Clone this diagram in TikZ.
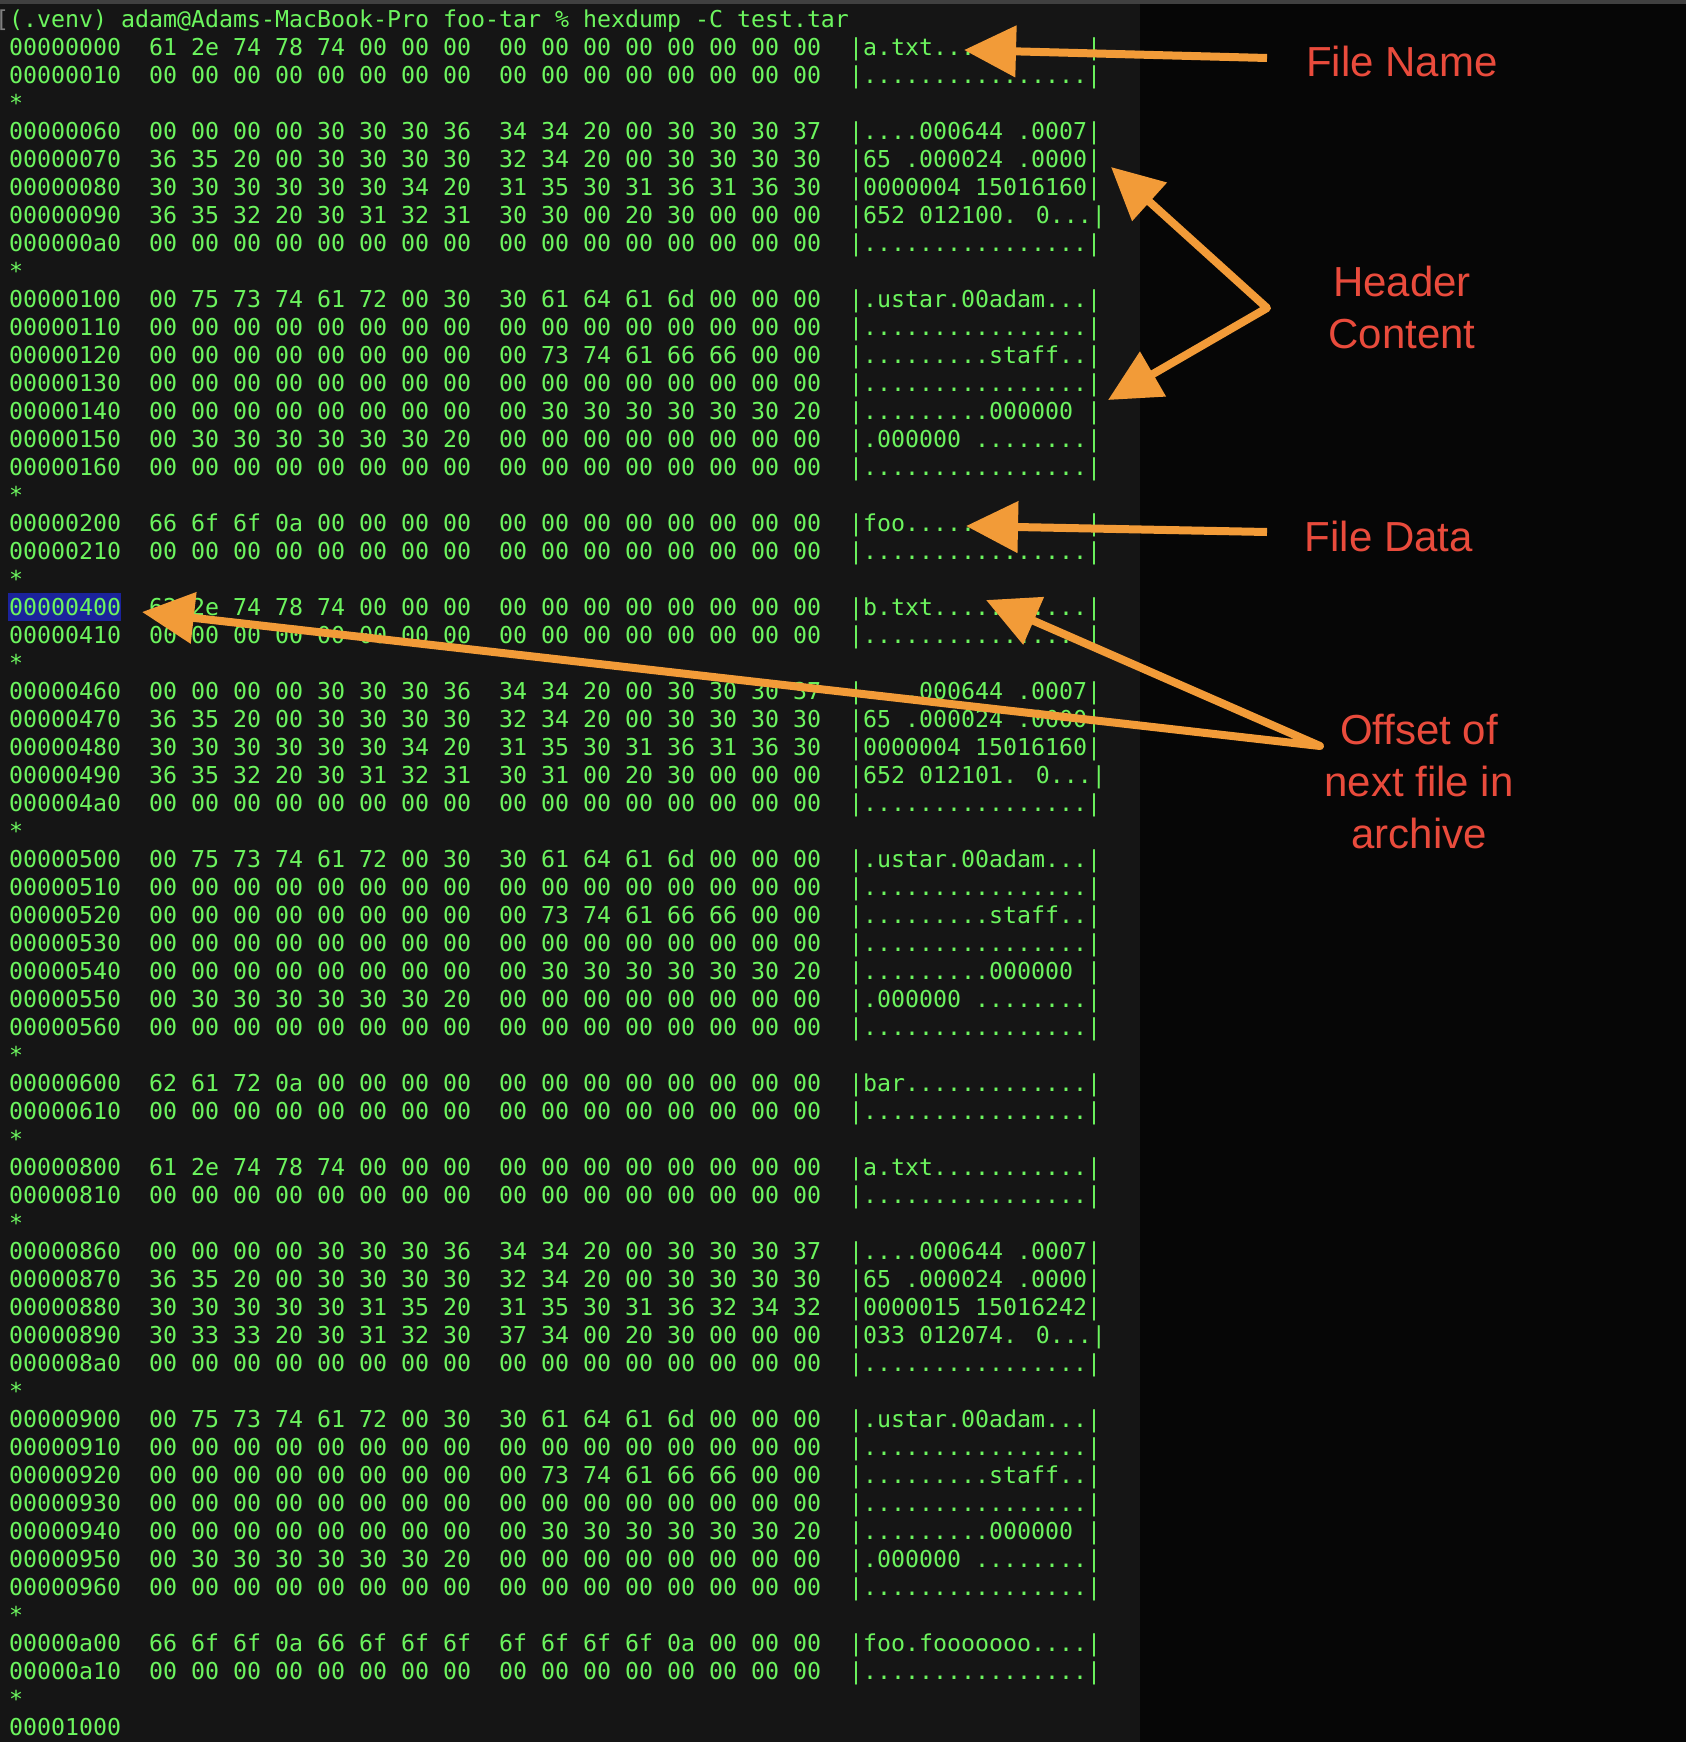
\documentclass[tikz,border=0pt]{standalone}
\usepackage{fontspec}
\setmainfont{Liberation Sans}
\newfontfamily\termfont{DejaVu Sans Mono}
\usetikzlibrary{arrows.meta}
\definecolor{tg}{HTML}{6CF55E}
\definecolor{bgL}{HTML}{151515}
\definecolor{bgR}{HTML}{060606}
\definecolor{arr}{HTML}{F29B38}
\definecolor{lab}{HTML}{E94B3C}
\definecolor{hl}{HTML}{1B239C}
\begin{document}
\begin{tikzpicture}[x=1pt,y=-1pt,
  tline/.style={anchor=base west,inner sep=0,text=tg,font=\termfont\fontsize{23.25}{28}\selectfont},
  labtext/.style={text=lab,align=center,inner sep=0,font=\fontsize{42}{52}\selectfont},
  arrow/.style={draw=arr,line width=8pt,line join=round,-{Triangle[length=52pt,width=50pt]}},
  darrow/.style={draw=arr,line width=8pt,line join=round,{Triangle[length=52pt,width=50pt]}-{Triangle[length=52pt,width=50pt]}}]
\useasboundingbox (0,0) rectangle (1686,1742);
\clip (0,0) rectangle (1686,1742);
\fill[bgL] (0,0) rectangle (1140,1742);
\fill[bgR] (1140,0) rectangle (1686,1742);
\fill[black!75] (0,0) rectangle (1686,4);
\newcommand\rowy[1]{{18.9+28*(#1-1)+8.5}}
\newcommand\hxrow[5]{%
  \node[tline] (o#1) at (9,\rowy{#1}) {#2};
  \node[tline] (a#1) at (149,\rowy{#1}) {#3};
  \node[tline] (b#1) at (499,\rowy{#1}) {#4};
  \node[tline] (c#1) at (849,\rowy{#1}) {#5};}
\newcommand\strow[1]{\node[tline] (s#1) at (9,\rowy{#1}) {*};}
\def\Z{00 00 00 00 00 00 00 00}
\def\D{|................|}
\newcommand\hdrblock[2]{%
  \hxrow{#1}{#200}{00 75 73 74 61 72 00 30}{30 61 64 61 6d 00 00 00}{|.ustar.00adam...|}
  \hxrow{\the\numexpr#1+1}{#210}{\Z}{\Z}{\D}
  \hxrow{\the\numexpr#1+2}{#220}{\Z}{00 73 74 61 66 66 00 00}{|.........staff..|}
  \hxrow{\the\numexpr#1+3}{#230}{\Z}{\Z}{\D}
  \hxrow{\the\numexpr#1+4}{#240}{\Z}{00 30 30 30 30 30 30 20}{|.........000000 |}
  \hxrow{\the\numexpr#1+5}{#250}{00 30 30 30 30 30 30 20}{\Z}{|.000000 ........|}
  \hxrow{\the\numexpr#1+6}{#260}{\Z}{\Z}{\D}}
% highlight
\fill[hl] (8,593) rectangle (121,621);
% header line
\node[tline,text=gray] (br) at (-5,\rowy{1}) {[};
\node[tline] (cmd) at (9,\rowy{1}) {(.venv) adam@Adams-MacBook-Pro foo-tar \% hexdump -C test.tar};
\hxrow{2}{00000000}{61 2e 74 78 74 00 00 00}{\Z}{|a.txt...........|}
\hxrow{3}{00000010}{\Z}{\Z}{\D}
\strow{4}
\hxrow{5}{00000060}{00 00 00 00 30 30 30 36}{34 34 20 00 30 30 30 37}{|....000644 .0007|}
\hxrow{6}{00000070}{36 35 20 00 30 30 30 30}{32 34 20 00 30 30 30 30}{|65 .000024 .0000|}
\hxrow{7}{00000080}{30 30 30 30 30 30 34 20}{31 35 30 31 36 31 36 30}{|0000004 15016160|}
\hxrow{8}{00000090}{36 35 32 20 30 31 32 31}{30 30 00 20 30 00 00 00}{|652 012100. 0...|}
\hxrow{9}{000000a0}{\Z}{\Z}{\D}
\strow{10}
\hdrblock{11}{000001}
\strow{18}
\hxrow{19}{00000200}{66 6f 6f 0a 00 00 00 00}{\Z}{|foo.............|}
\hxrow{20}{00000210}{\Z}{\Z}{\D}
\strow{21}
\hxrow{22}{00000400}{62 2e 74 78 74 00 00 00}{\Z}{|b.txt...........|}
\hxrow{23}{00000410}{\Z}{\Z}{\D}
\strow{24}
\hxrow{25}{00000460}{00 00 00 00 30 30 30 36}{34 34 20 00 30 30 30 37}{|....000644 .0007|}
\hxrow{26}{00000470}{36 35 20 00 30 30 30 30}{32 34 20 00 30 30 30 30}{|65 .000024 .0000|}
\hxrow{27}{00000480}{30 30 30 30 30 30 34 20}{31 35 30 31 36 31 36 30}{|0000004 15016160|}
\hxrow{28}{00000490}{36 35 32 20 30 31 32 31}{30 31 00 20 30 00 00 00}{|652 012101. 0...|}
\hxrow{29}{000004a0}{\Z}{\Z}{\D}
\strow{30}
\hdrblock{31}{000005}
\strow{38}
\hxrow{39}{00000600}{62 61 72 0a 00 00 00 00}{\Z}{|bar.............|}
\hxrow{40}{00000610}{\Z}{\Z}{\D}
\strow{41}
\hxrow{42}{00000800}{61 2e 74 78 74 00 00 00}{\Z}{|a.txt...........|}
\hxrow{43}{00000810}{\Z}{\Z}{\D}
\strow{44}
\hxrow{45}{00000860}{00 00 00 00 30 30 30 36}{34 34 20 00 30 30 30 37}{|....000644 .0007|}
\hxrow{46}{00000870}{36 35 20 00 30 30 30 30}{32 34 20 00 30 30 30 30}{|65 .000024 .0000|}
\hxrow{47}{00000880}{30 30 30 30 30 31 35 20}{31 35 30 31 36 32 34 32}{|0000015 15016242|}
\hxrow{48}{00000890}{30 33 33 20 30 31 32 30}{37 34 00 20 30 00 00 00}{|033 012074. 0...|}
\hxrow{49}{000008a0}{\Z}{\Z}{\D}
\strow{50}
\hdrblock{51}{000009}
\strow{58}
\hxrow{59}{00000a00}{66 6f 6f 0a 66 6f 6f 6f}{6f 6f 6f 6f 0a 00 00 00}{|foo.fooooooo....|}
\hxrow{60}{00000a10}{\Z}{\Z}{\D}
\strow{61}
\node[tline] (o62) at (9,\rowy{62}) {00001000};
% labels
\node[labtext] (lname) at (1402,61) {File Name};
\node[labtext] (lhdr) at (1402,307) {Header\\Content};
\node[labtext] (ldata) at (1389,536) {File Data};
\node[labtext] (loff) at (1419,781) {Offset of\\next file in\\archive};
% arrow coordinates
\coordinate (t1a) at (1267,58);  \coordinate (h1a) at (964,50);
\coordinate (h2a) at (1111,167); \coordinate (c2) at (1267,308); \coordinate (h2b) at (1108,400);
\coordinate (t3a) at (1267,532); \coordinate (h3a) at (966,526);
\coordinate (h4a) at (142,612);  \coordinate (c4) at (1320,746); \coordinate (h4b) at (986,600);
\draw[arrow] (t1a) -- (h1a);
\draw[darrow] (h2a) -- (c2) -- (h2b);
\draw[arrow] (t3a) -- (h3a);
\draw[darrow] (h4a) -- (c4) -- (h4b);
\end{tikzpicture}
\end{document}
